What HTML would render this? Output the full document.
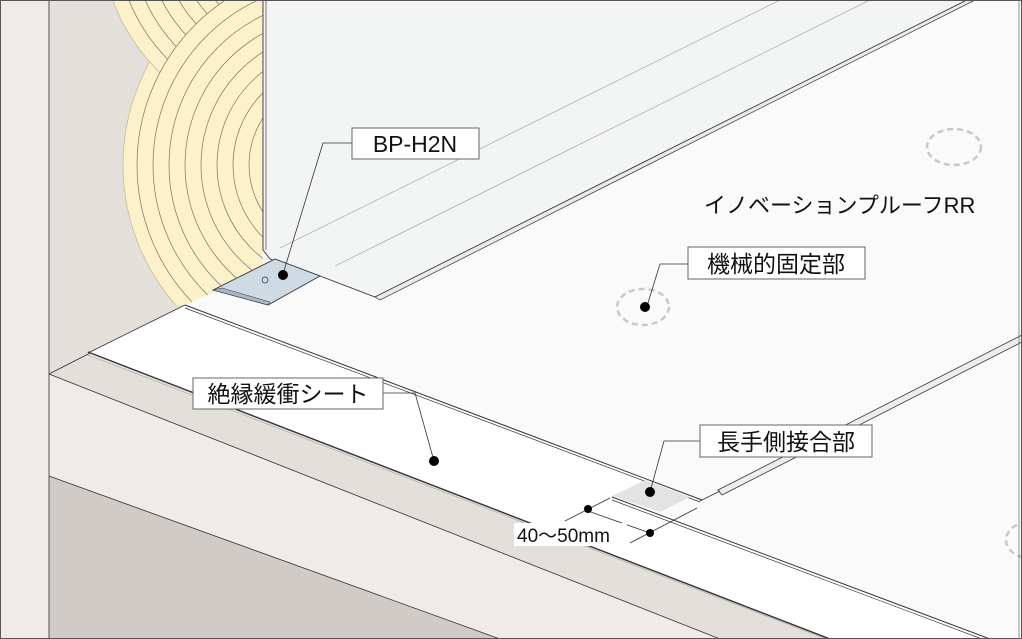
<!DOCTYPE html>
<html><head><meta charset="utf-8"><style>
html,body{margin:0;padding:0;background:#fff;width:1022px;height:639px;overflow:hidden}
svg{display:block}
text{font-family:"Liberation Sans","Noto Sans CJK JP",sans-serif;fill:#111}
</style></head><body>
<svg width="1022" height="639" viewBox="0 0 1022 639" xmlns="http://www.w3.org/2000/svg">
<defs>
<clipPath id="wood"><polygon points="100,0 263,0 263,270 185,305 100,305"/></clipPath>
</defs>
<rect x="0" y="0" width="1022" height="639" fill="#fafafa"/>
<rect x="0" y="0" width="49" height="639" fill="#efebe8"/>
<polygon points="49,0 263,0 263,270 185,305 49,374" fill="#e3dfdb"/>
<g clip-path="url(#wood)">
 <circle cx="335" cy="165" r="212" fill="#fdf1cb" stroke="#c9bd92" stroke-width="0.8"/>
 <circle cx="300" cy="-70" r="200" fill="#fdf1cb" stroke="#c9bd92" stroke-width="0.8"/>
 <g fill="none" stroke="#7a745e" stroke-width="0.7">
  <circle cx="300" cy="-70" r="185"/><circle cx="300" cy="-70" r="170"/><circle cx="300" cy="-70" r="155"/><circle cx="300" cy="-70" r="140"/><circle cx="300" cy="-70" r="125"/><circle cx="300" cy="-70" r="110"/>
 </g>
 <circle cx="335" cy="165" r="198" fill="#fdf1cb" stroke="#7a745e" stroke-width="0.7"/>
 <g fill="none" stroke="#7a745e" stroke-width="0.7">
  <circle cx="335" cy="165" r="182"/><circle cx="335" cy="165" r="166"/><circle cx="335" cy="165" r="150"/><circle cx="335" cy="165" r="134"/><circle cx="335" cy="165" r="118"/><circle cx="335" cy="165" r="102"/><circle cx="335" cy="165" r="86"/>
 </g>
</g>
<!-- ledge bands -->
<polygon points="49,374 1022,747 1022,639 49,639" fill="#efebe8"/>
<polygon points="49,374 88,353 830,639 720,639" fill="#e3dfdb"/>
<polygon points="49,476 500,639 49,639" fill="#d0cbc6"/>
<line x1="49" y1="476" x2="500" y2="639" stroke="#333" stroke-width="0.8"/>
<line x1="49" y1="374" x2="720" y2="639" stroke="#333" stroke-width="0.8"/>
<line x1="49" y1="374" x2="155" y2="320" stroke="#333" stroke-width="0.8"/>
<!-- white insulating sheet -->
<polygon points="88,353 185,305 702,500 612,497 990,639 830,639" fill="#ffffff"/>
<line x1="88" y1="353" x2="185" y2="305" stroke="#333" stroke-width="0.8"/>
<line x1="88" y1="352" x2="830" y2="639" stroke="#333" stroke-width="1.4"/>
<line x1="88" y1="355" x2="826" y2="639" stroke="#aaa" stroke-width="0.6"/>
<!-- membrane edges -->
<line x1="185" y1="305" x2="702" y2="500" stroke="#333" stroke-width="1"/>
<line x1="185" y1="308" x2="700" y2="502" stroke="#333" stroke-width="0.7"/>
<line x1="612" y1="497" x2="990" y2="639" stroke="#333" stroke-width="1"/>
<line x1="612" y1="500" x2="982" y2="639" stroke="#333" stroke-width="0.7"/>
<!-- vertical panel -->
<polygon points="263,0 967,0 375,297 320,276 270,259 263,250" fill="#f3f5f4" stroke="#333" stroke-width="0.9"/>
<polygon points="375,297 967,0 975,0 380,300" fill="#e8ebea" stroke="#333" stroke-width="0.7"/>
<line x1="280" y1="248" x2="780" y2="0" stroke="#999" stroke-width="0.6"/>
<line x1="335" y1="266" x2="870" y2="0" stroke="#999" stroke-width="0.6"/>
<line x1="266" y1="0" x2="266" y2="250" stroke="#555" stroke-width="0.8"/>
<!-- bracket -->
<polygon points="213,290 275,259 320,276 268,305" fill="#cfdbe4" stroke="#333" stroke-width="0.9"/>
<polygon points="213,290 268,305 270,302 222,288" fill="#aab6c0" stroke="#333" stroke-width="0.5"/>
<circle cx="265" cy="280" r="3" fill="none" stroke="#333" stroke-width="0.7"/>
<!-- second panel hem -->
<polygon points="718,490 1022,335 1022,342 722,495" fill="#eceeed" stroke="#333" stroke-width="0.8"/>
<line x1="700" y1="501" x2="720" y2="491" stroke="#333" stroke-width="0.8"/>
<!-- joint patch -->
<polygon points="612,496 646,480 690,497 660,512" fill="#e3e3e3"/>
<g fill="none" stroke="#c8c8c8" stroke-width="2.5" stroke-dasharray="6,4">
 <ellipse cx="954" cy="147" rx="27" ry="18"/>
 <ellipse cx="643" cy="307" rx="26" ry="18"/>
 <ellipse cx="1030" cy="540" rx="24" ry="18"/>
</g>
<line x1="49" y1="0" x2="49" y2="639" stroke="#555" stroke-width="1"/>
<rect x="0.5" y="0.5" width="1021" height="638" fill="none" stroke="#555" stroke-width="1"/>
<line x1="1019" y1="0" x2="1019" y2="639" stroke="#777" stroke-width="0.8"/>
<g stroke="#333" stroke-width="0.8" fill="none">
 <polyline points="352,143 323,143 283,274"/>
 <polyline points="690,264 660,264 647,306"/>
 <polyline points="383,393 415,393 434,461"/>
 <polyline points="700,441 664,441 650,492"/>
 <line x1="565" y1="521" x2="610" y2="498"/>
 <line x1="588" y1="511" x2="650" y2="533"/>
 <line x1="630" y1="543" x2="697" y2="508"/>
</g>
<g fill="#000">
 <circle cx="283" cy="275" r="5"/><circle cx="645" cy="307" r="5"/><circle cx="434" cy="461" r="5"/><circle cx="650" cy="492" r="5"/>
 <circle cx="588" cy="509" r="4"/><circle cx="650" cy="533" r="4"/>
</g>
<rect x="352" y="128" width="127" height="31" fill="#fff" stroke="#666" stroke-width="1"/>
<text x="415" y="152" font-size="23" text-anchor="middle">BP-H2N</text>
<text x="704" y="213" font-size="22">イノベーションプルーフRR</text>
<rect x="688" y="247" width="177" height="32" fill="#fff" stroke="#666" stroke-width="1"/>
<text x="776" y="272" font-size="23" text-anchor="middle">機械的固定部</text>
<rect x="193" y="378" width="190" height="31" fill="#fff" stroke="#666" stroke-width="1"/>
<text x="288" y="402" font-size="23" text-anchor="middle">絶縁緩衝シート</text>
<rect x="700" y="425" width="172" height="32" fill="#fff" stroke="#666" stroke-width="1"/>
<text x="786" y="450" font-size="23" text-anchor="middle">長手側接合部</text>
<rect x="514" y="523" width="113" height="23" fill="#fff"/>
<text x="517" y="542" font-size="19">40～50mm</text>
</svg>
</body></html>
